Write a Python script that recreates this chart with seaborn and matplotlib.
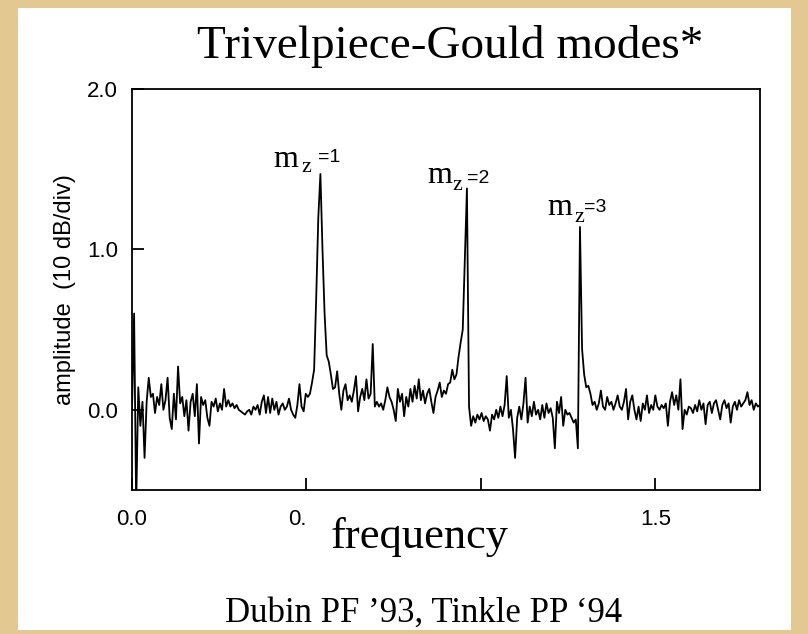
import numpy as np
import pandas as pd
import matplotlib
matplotlib.use("Agg")
import matplotlib.pyplot as plt
import seaborn as sns
from matplotlib.patches import Rectangle

# ---------------- data ----------------
freq_step = 0.006
amp_low = [0.0, 0.6, -0.6, 0.14, -0.1, 0.05, -0.3, 0.05, 0.2, 0.08,
           0.1, -0.02, 0.08, 0.03, 0.16, 0.0, 0.06, 0.2, -0.05, -0.12,
           0.1, -0.06, 0.27, 0.04, 0.08, -0.04, 0.06, -0.13, 0.05, 0.1,
           -0.04, 0.16, -0.21, 0.08, 0.03, 0.06, -0.05, -0.1, 0.05, 0.02,
           0.07, -0.01, 0.04, 0.0, 0.13, 0.02, 0.06, 0.02, 0.04, 0.01,
           0.03, 0.0, -0.01, -0.02, -0.03, -0.01, 0.0, -0.03, 0.02, 0.0,
           0.03, -0.03, 0.05, 0.09, -0.02, 0.08, -0.02, 0.07, 0.0, 0.05,
           -0.03, 0.02, 0.04, 0.0, 0.02, 0.07, 0.0, -0.03, -0.05, 0.03,
           0.16, 0.02, -0.01, 0.1, 0.08, 0.1, 0.17, 0.25]
amp_mode1 = [0.7, 1.2, 1.47, 1.0, 0.6, 0.34, 0.3, 0.22, 0.13,
             0.14, 0.24, 0.1, 0.0, 0.12, 0.16, 0.06, 0.09, 0.05, 0.12,
             0.21, -0.01, 0.08, 0.13, 0.06, 0.19, 0.07, 0.1, 0.41, 0.02,
             0.05, 0.02, 0.04, 0.0, 0.06, 0.14, 0.08, 0.05, 0.0, -0.07,
             0.13, 0.05, 0.1, -0.04, 0.08, 0.02, 0.13, 0.05, 0.15, 0.07,
             0.19, 0.06, 0.12, 0.04, 0.1, 0.13, 0.05, -0.02, 0.08, 0.12,
             0.17, 0.08, 0.12, 0.1, 0.16, 0.17, 0.25, 0.19, 0.22, 0.33,
             0.42, 0.5, 0.95]
amp_mode2 = [1.38, 0.02, -0.1, -0.04, -0.08, -0.03, -0.06, -0.02, -0.07,
             -0.04, -0.06, -0.13, -0.03, -0.06, 0.0, -0.05, 0.02, -0.04,
             0.03, 0.21, -0.05, 0.0, -0.12, -0.3, -0.05, 0.02, -0.06, 0.04,
             0.2, -0.08, 0.02, -0.04, 0.05, -0.03, 0.0, -0.06, 0.03, -0.05,
             0.04, -0.02, 0.01, -0.05, -0.24, 0.05, -0.02, 0.08, -0.1, 0.0,
             -0.03, -0.02, -0.05, -0.08, -0.06, -0.24]
amp_mode3 = [1.14, 0.38, 0.22, 0.14, 0.15, 0.1, 0.03, 0.05, 0.0, 0.04,
             0.12, 0.02, 0.0, 0.08, 0.03, 0.05, 0.0, 0.04, 0.09, 0.02,
             0.0, 0.05, 0.13, -0.06, 0.05, 0.09, 0.0, -0.06, 0.02, -0.07,
             0.04, 0.0, 0.09, -0.02, 0.03, 0.0, 0.09, 0.02, 0.0, 0.03,
             0.01, 0.04, -0.1, 0.05, 0.11, 0.03, 0.09, 0.0, 0.19, -0.12,
             0.0, -0.03, 0.02, 0.01, -0.02, 0.03, -0.01, 0.06, 0.0, 0.04,
             -0.09, 0.03, 0.05, -0.02, 0.04, 0.06, 0.0, -0.06, 0.03, 0.06,
             0.01, 0.04, -0.08, 0.02, 0.05, 0.0, 0.06, 0.02, 0.04, 0.06,
             0.11, 0.03, 0.06, 0.0, 0.04, 0.02, 0.03]

mode_labels = ["=1", "=2", "=3"]
xtick_vals = [0.0, 0.5, 1.0, 1.5]
xtick_text = ["0.0", "0.", "", "1.5"]
ytick_vals = [0.0, 1.0, 2.0]
ytick_text = ["0.0", "1.0", "2.0"]

amplitude = np.array(amp_low + amp_mode1 + amp_mode2 + amp_mode3)
frequency = np.arange(len(amplitude)) * freq_step
df = pd.DataFrame({"frequency": frequency, "amplitude": amplitude})

# ---------------- styling ----------------
sns.set_style("ticks")
plt.rcParams["font.family"] = ["Liberation Sans", "DejaVu Sans"]
plt.rcParams["text.color"] = "black"
plt.rcParams["axes.labelcolor"] = "black"
SERIF = ["Liberation Serif", "DejaVu Serif"]
SANS = ["Liberation Sans", "DejaVu Sans"]

W, H = 808, 634
fig = plt.figure(figsize=(W / 100, H / 100), dpi=100)
fig.patch.set_facecolor("#e4c891")
panel = Rectangle((18 / W, 1 - 630 / H), (791 - 18) / W, (630 - 8) / H,
                  transform=fig.transFigure, facecolor="white",
                  edgecolor="none", zorder=-10)
fig.patches.append(panel)

def fx(px):
    return px / W

def fy(py):
    return 1 - py / H

ax = fig.add_axes([fx(132), fy(490), (760 - 132) / W, (490 - 89) / H])
ax.set_zorder(1)
ax.set_facecolor("white")

sns.lineplot(data=df, x="frequency", y="amplitude", color="black",
             linewidth=1.3, ax=ax, estimator=None, sort=False)

ax.set_xlim(0, 1.8)
ax.set_ylim(-0.5, 2.0)
ax.set_xticks(xtick_vals)
xl = ax.set_xticklabels(xtick_text)
xl[1].set_horizontalalignment("right")
ax.set_yticks(ytick_vals)
ax.set_yticklabels(ytick_text)
ax.tick_params(direction="in", length=8.5, width=1.3, labelsize=16,
               colors="black", pad=10)
ax.tick_params(axis="x", pad=14)
for lab in ax.get_xticklabels() + ax.get_yticklabels():
    lab.set_family(SANS)
for s in ax.spines.values():
    s.set_linewidth(1.3)
    s.set_color("black")
ax.set_xlabel("")
ax.set_ylabel("amplitude  (10 dB/div)", fontsize=17, family=SANS, labelpad=8,
              color="black")

# mode annotations (m serif, z subscript serif, "=n" sans)
m_pos = [(273, 167), (427, 183), (547, 215)]
z_pos = [(301, 172), (452, 190), (574, 222)]
eq_pos = [(318, 162), (467, 183), (584, 212)]
for (mx, my), (zx, zy), (ex, ey), lab in zip(m_pos, z_pos, eq_pos, mode_labels):
    fig.text(fx(mx), fy(my), "m", family=SERIF, fontsize=23,
             ha="left", va="baseline", color="black", zorder=5)
    fig.text(fx(zx), fy(zy), "z", family=SERIF, fontsize=16,
             ha="left", va="baseline", color="black", zorder=5)
    fig.text(fx(ex), fy(ey), lab, family=SANS, fontsize=14,
             ha="left", va="baseline", color="black", zorder=5)

fig.text(fx(450), fy(58), "Trivelpiece-Gould modes*", family=SERIF,
         fontsize=34, ha="center", va="baseline", color="black")
fig.text(fx(420), fy(548), "frequency", family=SERIF, fontsize=32,
         ha="center", va="baseline", color="black")
fig.text(fx(424), fy(622), "Dubin PF \u201993, Tinkle PP \u201894", family=SERIF,
         fontsize=25, ha="center", va="baseline", color="black")

fig.savefig("out.png", dpi=100, facecolor=fig.get_facecolor())
